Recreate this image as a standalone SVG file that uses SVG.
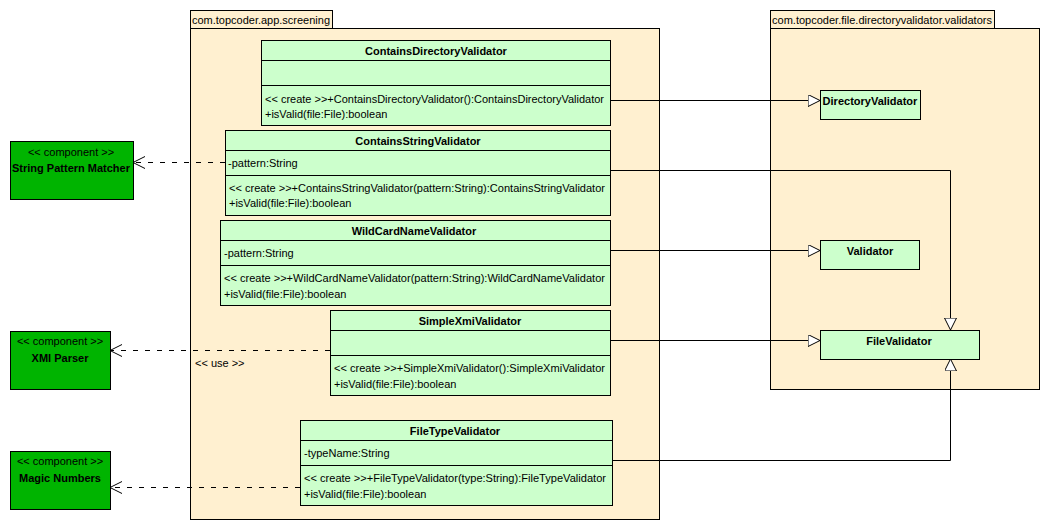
<svg xmlns="http://www.w3.org/2000/svg" width="1050" height="530" viewBox="0 0 1050 530">
<style>
text{font-family:"Liberation Sans",Arial,sans-serif;font-size:11px;fill:#000}
.b{font-weight:bold;font-size:11px}
.c{text-anchor:middle}
.pkg{fill:#FFF0D0;stroke:#000;stroke-width:1}
.cls{fill:#CCFFCC;stroke:#000;stroke-width:1}
.cmp{fill:#00B400;stroke:#000;stroke-width:1}
.ln{stroke:#000;stroke-width:1;fill:none}
.dash{stroke:#000;stroke-width:1;fill:none;stroke-dasharray:5,7}
</style>
<defs>
<marker id="tri" markerWidth="14" markerHeight="14" refX="12" refY="6" orient="auto" markerUnits="userSpaceOnUse">
<path d="M0,0 L12,6 L0,12 Z" fill="#fff" stroke="#000" stroke-width="1"/>
</marker>
<marker id="open" markerWidth="14" markerHeight="14" refX="12" refY="6" orient="auto" markerUnits="userSpaceOnUse">
<path d="M0,0 L12,6 L0,12" fill="none" stroke="#000" stroke-width="1"/>
</marker>
</defs>
<rect width="1050" height="530" fill="#fff"/>

<g id="pkg-screening">
<rect class="pkg" x="190.5" y="10.5" width="142" height="18"/>
<rect class="pkg" x="190.5" y="28.5" width="469" height="491"/>
<text x="192" y="24" textLength="138" lengthAdjust="spacingAndGlyphs">com.topcoder.app.screening</text>
</g>
<g id="pkg-validators">
<rect class="pkg" x="770.5" y="10.5" width="224" height="18"/>
<rect class="pkg" x="770.5" y="28.5" width="269" height="361"/>
<text x="772" y="24" textLength="220" lengthAdjust="spacingAndGlyphs">com.topcoder.file.directoryvalidator.validators</text>
</g>

<g id="connectors">
<polyline class="ln" points="610,100.5 820,100.5" marker-end="url(#tri)"/>
<polyline class="ln" points="610,170.5 950.5,170.5 950.5,330" marker-end="url(#tri)"/>
<polyline class="ln" points="610,250.5 820,250.5" marker-end="url(#tri)"/>
<polyline class="ln" points="610,340.5 820,340.5" marker-end="url(#tri)"/>
<polyline class="ln" points="612,460.5 950.5,460.5 950.5,359" marker-end="url(#tri)"/>
<line class="dash" x1="225" y1="162.5" x2="133" y2="162.5" marker-end="url(#open)"/>
<line class="dash" x1="330" y1="350.5" x2="110" y2="350.5" marker-end="url(#open)"/>
<line class="dash" x1="300" y1="487.5" x2="110" y2="487.5" marker-end="url(#open)"/>
<text x="195" y="367">&lt;&lt; use &gt;&gt;</text>
</g>

<g id="ContainsDirectoryValidator">
<rect class="cls" x="261.5" y="40.5" width="349" height="85"/>
<line class="ln" x1="261.5" y1="60.5" x2="610.5" y2="60.5"/>
<line class="ln" x1="261.5" y1="85.5" x2="610.5" y2="85.5"/>
<text class="b c" x="436" y="55">ContainsDirectoryValidator</text>
<text x="265" y="103" textLength="339" lengthAdjust="spacingAndGlyphs">&lt;&lt; create &gt;&gt;+ContainsDirectoryValidator():ContainsDirectoryValidator</text>
<text x="265" y="118">+isValid(file:File):boolean</text>
</g>

<g id="ContainsStringValidator">
<rect class="cls" x="225.5" y="130.5" width="385" height="85"/>
<line class="ln" x1="225.5" y1="150.5" x2="610.5" y2="150.5"/>
<line class="ln" x1="225.5" y1="175.5" x2="610.5" y2="175.5"/>
<text class="b c" x="418" y="145">ContainsStringValidator</text>
<text x="228" y="167">-pattern:String</text>
<text x="229" y="192" textLength="376" lengthAdjust="spacingAndGlyphs">&lt;&lt; create &gt;&gt;+ContainsStringValidator(pattern:String):ContainsStringValidator</text>
<text x="229" y="207">+isValid(file:File):boolean</text>
</g>

<g id="WildCardNameValidator">
<rect class="cls" x="220.5" y="220.5" width="390" height="85"/>
<line class="ln" x1="220.5" y1="240.5" x2="610.5" y2="240.5"/>
<line class="ln" x1="220.5" y1="265.5" x2="610.5" y2="265.5"/>
<text class="b c" x="414" y="235">WildCardNameValidator</text>
<text x="224" y="257">-pattern:String</text>
<text x="224" y="282" textLength="381" lengthAdjust="spacingAndGlyphs">&lt;&lt; create &gt;&gt;+WildCardNameValidator(pattern:String):WildCardNameValidator</text>
<text x="224" y="298">+isValid(file:File):boolean</text>
</g>

<g id="SimpleXmiValidator">
<rect class="cls" x="330.5" y="310.5" width="280" height="85"/>
<line class="ln" x1="330.5" y1="330.5" x2="610.5" y2="330.5"/>
<line class="ln" x1="330.5" y1="355.5" x2="610.5" y2="355.5"/>
<text class="b c" x="470" y="325">SimpleXmiValidator</text>
<text x="334" y="372" textLength="271" lengthAdjust="spacingAndGlyphs">&lt;&lt; create &gt;&gt;+SimpleXmiValidator():SimpleXmiValidator</text>
<text x="334" y="388">+isValid(file:File):boolean</text>
</g>

<g id="FileTypeValidator">
<rect class="cls" x="300.5" y="420.5" width="312" height="85"/>
<line class="ln" x1="300.5" y1="440.5" x2="612.5" y2="440.5"/>
<line class="ln" x1="300.5" y1="465.5" x2="612.5" y2="465.5"/>
<text class="b c" x="455" y="435">FileTypeValidator</text>
<text x="304" y="457">-typeName:String</text>
<text x="304" y="482" textLength="302" lengthAdjust="spacingAndGlyphs">&lt;&lt; create &gt;&gt;+FileTypeValidator(type:String):FileTypeValidator</text>
<text x="304" y="498">+isValid(file:File):boolean</text>
</g>

<g id="DirectoryValidator">
<rect class="cls" x="820.5" y="90.5" width="100" height="29"/>
<text class="b c" x="870" y="105">DirectoryValidator</text>
</g>
<g id="Validator">
<rect class="cls" x="820.5" y="240.5" width="99" height="29"/>
<text class="b c" x="870" y="255">Validator</text>
</g>
<g id="FileValidator">
<rect class="cls" x="820.5" y="330.5" width="159" height="29"/>
<text class="b c" x="899" y="345">FileValidator</text>
</g>

<g id="StringPatternMatcher">
<rect class="cmp" x="10.5" y="141.5" width="123" height="58"/>
<text class="c" x="71" y="156">&lt;&lt; component &gt;&gt;</text>
<text class="b c" x="71" y="172">String Pattern Matcher</text>
</g>
<g id="XMIParser">
<rect class="cmp" x="10.5" y="331.5" width="100" height="58"/>
<text class="c" x="60" y="345">&lt;&lt; component &gt;&gt;</text>
<text class="b c" x="60" y="362">XMI Parser</text>
</g>
<g id="MagicNumbers">
<rect class="cmp" x="10.5" y="451.5" width="100" height="58"/>
<text class="c" x="60" y="465">&lt;&lt; component &gt;&gt;</text>
<text class="b c" x="60" y="482">Magic Numbers</text>
</g>
</svg>
